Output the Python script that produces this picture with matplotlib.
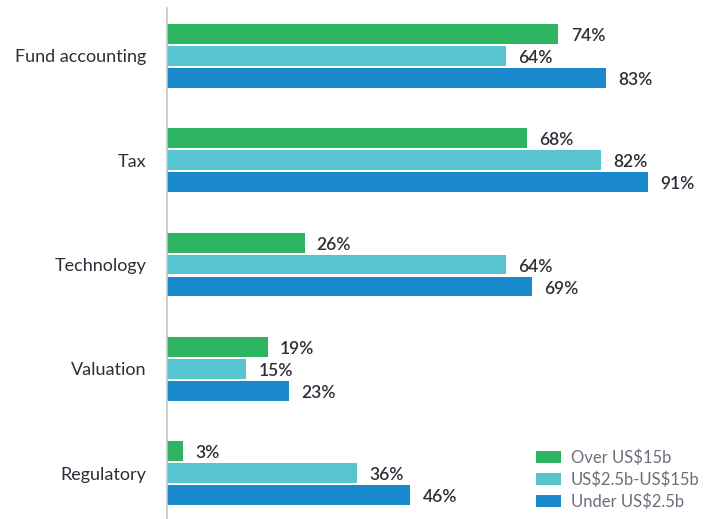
import matplotlib
matplotlib.use("Agg")
import matplotlib.pyplot as plt
import numpy as np

categories = ["Fund accounting", "Tax", "Technology", "Valuation", "Regulatory"]
series_names = ["Over US\\$15b", "US\\$2.5b-US\\$15b", "Under US\\$2.5b"]
over_15b = [74, 68, 26, 19, 3]
mid_range = [64, 82, 64, 15, 36]
under_2_5b = [83, 91, 69, 23, 46]
colors = ["#2db562", "#56c5d0", "#1a89cb"]

plt.rcParams['font.family'] = ['Lato', 'DejaVu Sans']

fig = plt.figure(figsize=(7.12, 5.19), dpi=100)
# axes placed in pixel terms: left edge at x=167, top at y=8
ax = fig.add_axes([167 / 712, 0, 529 / 712, 511 / 519])

y = np.arange(len(categories))
h = 0.19
step = 0.21
for i, (vals, name, col) in enumerate(zip([over_15b, mid_range, under_2_5b], series_names, colors)):
    pos = y + (i - 1) * step
    ax.barh(pos, vals, height=h, color=col, label=name)
    for p, v in zip(pos, vals):
        ax.text(v + 2.3, p + 0.02, f"{v}%", va="center", ha="left",
                fontsize=12.5, color="#2e2e38", fontweight="semibold")

ax.set_xlim(0, 100)
ax.set_ylim(4.44, -0.46)
ax.set_yticks(y)
ax.set_yticklabels(categories, fontsize=13, color="#2e2e38")
ax.tick_params(axis="y", length=0, pad=15)
ax.set_xticks([])
for s in ["top", "right", "bottom"]:
    ax.spines[s].set_visible(False)
ax.spines["left"].set_color("#c4c4cd")
ax.spines["left"].set_linewidth(1.2)

leg = ax.legend(loc="lower right", bbox_to_anchor=(1.035, -0.012), frameon=False,
                fontsize=12, handlelength=1.5, handleheight=0.7,
                labelspacing=0.33, handletextpad=0.6)
for t in leg.get_texts():
    t.set_color("#6d6e7a")

fig.savefig("out.png", dpi=100)
